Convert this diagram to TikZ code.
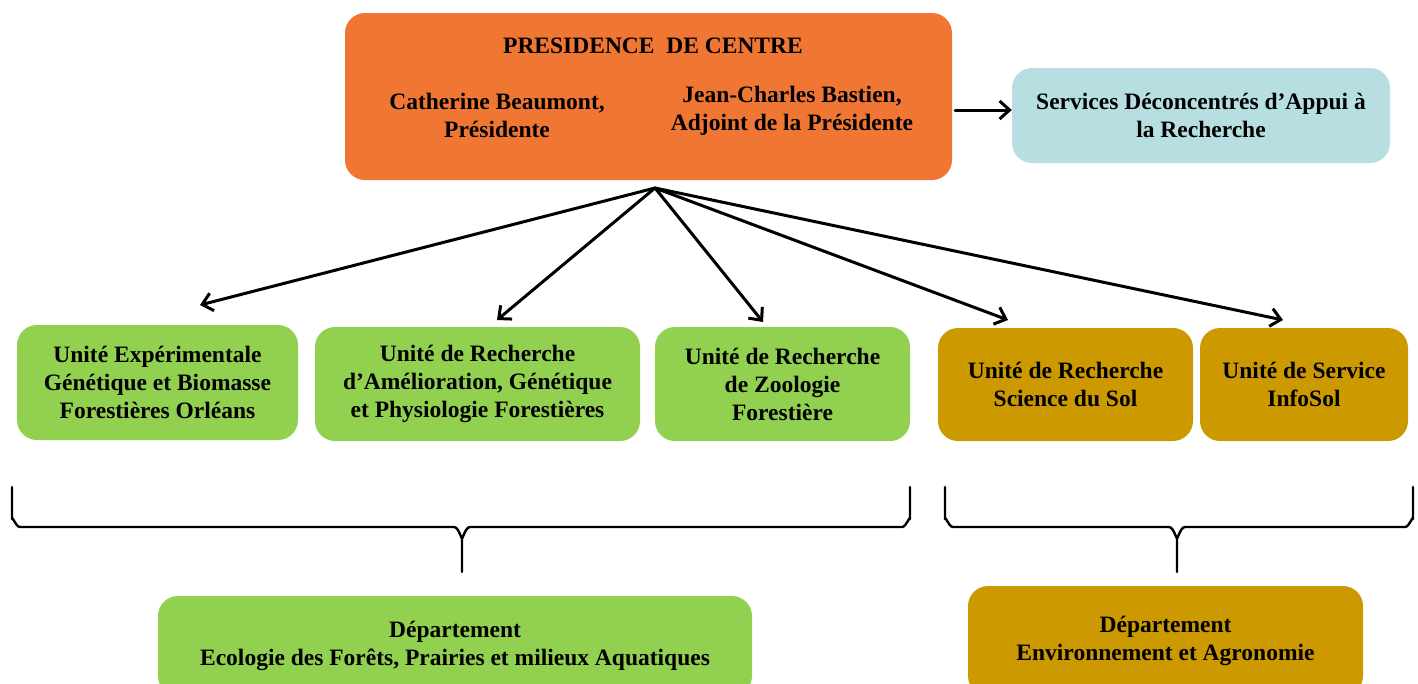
\documentclass[tikz,border=0pt]{standalone}
\usepackage{fontspec}
\setmainfont{Liberation Serif}
\usetikzlibrary{arrows.meta}
\definecolor{presorange}{HTML}{F07633}
\definecolor{servblue}{HTML}{B7DEE0}
\definecolor{unitgreen}{HTML}{92D050}
\definecolor{unittan}{HTML}{CC9900}
\begin{document}
\begin{tikzpicture}[x=1pt, y=-1pt, line join=round, line cap=round,
  >={Straight Barb[length=10pt,width=18pt]},
  font=\fontsize{23.5}{28}\selectfont\bfseries,
  boxbase/.style={rounded corners=20pt, align=center, inner sep=0pt},
  presbox/.style={boxbase, fill=presorange},
  servbox/.style={boxbase, fill=servblue},
  greenbox/.style={boxbase, fill=unitgreen},
  tanbox/.style={boxbase, fill=unittan},
  namelabel/.style={align=center, inner sep=0pt},
  link/.style={->, line width=3pt},
  bracket/.style={line width=2.4pt}]
\useasboundingbox (0,0) rectangle (1418,683);
% presidence
\node[presbox, minimum width=607, minimum height=167] (pres) at (648.5,96.5) {};
\node[namelabel] (prestitle) at (653,46) {PRESIDENCE~ DE CENTRE};
\node[namelabel] (cath) at (497,115) {Catherine Beaumont,\\Présidente};
\node[namelabel] (jean) at (792,111) {Jean-Charles Bastien,\\Adjoint de la Présidente};
\node[servbox, minimum width=378, minimum height=95] (serv) at (1201,115.5) {Services Déconcentrés d’Appui à\\la Recherche};
\draw[link] (pres.east |- 0,110) ++(3,0) -- (serv.west |- 0,110);
% unites
\node[greenbox, minimum width=281, minimum height=115] (ueg) at (157.5,382.5) {Unité Expérimentale\\Génétique et Biomasse\\Forestières Orléans};
\node[greenbox, minimum width=325, minimum height=114] (urag) at (477.5,384) {Unité de Recherche\\d’Amélioration, Génétique\\et Physiologie Forestières};
\node[greenbox, minimum width=255, minimum height=114] (urz) at (782.5,384) {Unité de Recherche\\de Zoologie\\Forestière};
\node[tanbox, minimum width=255, minimum height=113] (urs) at (1065.5,384.5) {Unité de Recherche\\Science du Sol};
\node[tanbox, minimum width=208, minimum height=113] (usi) at (1304,384.5) {Unité de Service\\InfoSol};
\coordinate (hub) at (655,188);
\coordinate (ueg-in) at (200,305);
\coordinate (urag-in) at (497,320);
\coordinate (urz-in) at (763,322);
\coordinate (urs-in) at (1008,320);
\coordinate (usi-in) at (1283,320);
\foreach \tgt in {ueg-in, urag-in, urz-in, urs-in, usi-in}
  \draw[link] (hub) -- (\tgt);
% accolades
\draw[bracket] (12,487) -- (12,519) to[out=90,in=180] (20,527) -- (454,527)
  to[out=0,in=-90] (462,537) -- (462,572);
\draw[bracket] (462,537) to[out=-90,in=180] (470,527) -- (902,527)
  to[out=0,in=90] (910,519) -- (910,487);
\draw[bracket] (945,487) -- (945,519) to[out=90,in=180] (953,527) -- (1169,527)
  to[out=0,in=-90] (1177,537) -- (1177,572);
\draw[bracket] (1177,537) to[out=-90,in=180] (1185,527) -- (1405,527)
  to[out=0,in=90] (1413,519) -- (1413,487);
% departements
\node[greenbox, minimum width=594, minimum height=100] (defpa) at (455,646) {Département\\Ecologie des Forêts, Prairies et milieux Aquatiques};
\node[tanbox, minimum width=395, minimum height=110] (dea) at (1165.5,641) {Département\\Environnement et Agronomie};
\end{tikzpicture}
\end{document}
